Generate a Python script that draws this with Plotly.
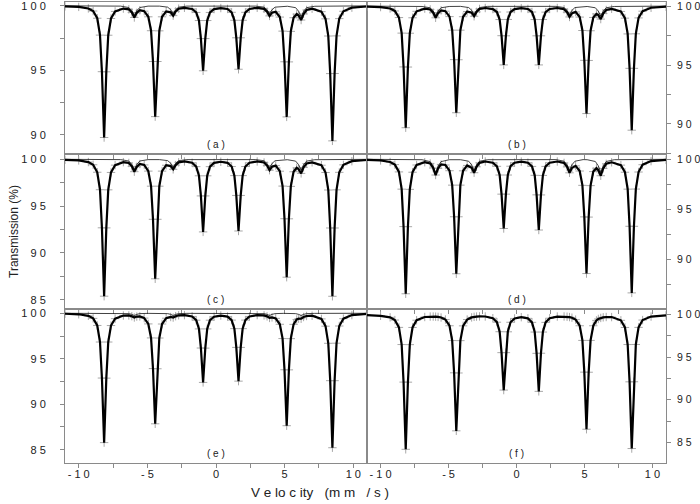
import plotly.graph_objects as go

# velocity grid (mm/s) shared by the fitted spectra
velocity = [
    -11.0, -10.0, -9.3, -8.95, -8.65, -8.45, -8.31, -8.15, -7.99, -7.85,
    -7.65, -7.35, -6.75, -6.35, -6.13, -5.95, -5.77, -5.55, -5.23, -4.93,
    -4.73, -4.59, -4.43, -4.27, -4.13, -3.93, -3.63, -3.30, -3.12, -2.94,
    -2.72, -2.30, -1.74, -1.44, -1.24, -1.10, -0.94, -0.78, -0.64, -0.44,
    -0.14, 0.35, 0.84, 1.14, 1.34, 1.48, 1.64, 1.80, 1.94, 2.14,
    2.44, 3.00, 3.50, 3.72, 3.90, 4.08, 4.35, 4.65, 4.85, 4.99,
    5.15, 5.31, 5.45, 5.65, 5.88, 6.02, 6.20, 6.38, 6.60, 7.00,
    7.68, 7.98, 8.18, 8.32, 8.48, 8.64, 8.78, 8.98, 9.28, 9.90,
    11.0,
]

fit_a = [
    99.96, 99.92, 99.80, 99.60, 99.04, 97.73, 94.89, 89.78, 94.88, 97.72,
    99.02, 99.57, 99.79, 99.73, 99.49, 99.10, 99.46, 99.66, 99.59, 99.15,
    98.07, 95.68, 91.40, 95.68, 98.06, 99.15, 99.57, 99.50, 99.24, 99.57,
    99.78, 99.85, 99.76, 99.49, 98.86, 97.46, 94.96, 97.46, 98.86, 99.49,
    99.75, 99.83, 99.76, 99.50, 98.88, 97.52, 95.08, 97.52, 98.88, 99.50,
    99.76, 99.85, 99.77, 99.55, 99.22, 99.47, 99.54, 99.13, 98.04, 95.66,
    91.38, 95.65, 98.02, 99.08, 99.36, 99.25, 98.90, 99.37, 99.68, 99.78,
    99.55, 98.99, 97.66, 94.74, 89.52, 94.75, 97.67, 99.01, 99.58, 99.86,
    99.95,
]
fit_b = [
    99.96, 99.92, 99.80, 99.59, 99.03, 97.71, 94.84, 89.68, 94.83, 97.70,
    99.01, 99.56, 99.79, 99.72, 99.44, 99.01, 99.41, 99.64, 99.57, 99.11,
    97.96, 95.46, 90.95, 95.45, 97.96, 99.10, 99.54, 99.44, 99.14, 99.51,
    99.76, 99.84, 99.75, 99.50, 98.86, 97.49, 95.01, 97.48, 98.87, 99.50,
    99.75, 99.83, 99.76, 99.50, 98.86, 97.48, 95.01, 97.48, 98.86, 99.49,
    99.76, 99.84, 99.74, 99.48, 99.08, 99.39, 99.51, 99.07, 97.93, 95.40,
    90.88, 95.39, 97.91, 99.04, 99.34, 99.24, 98.90, 99.37, 99.67, 99.77,
    99.55, 98.98, 97.64, 94.72, 89.47, 94.72, 97.65, 99.00, 99.57, 99.86,
    99.95,
]
fit_c = [
    99.95, 99.88, 99.71, 99.42, 98.62, 96.75, 92.68, 85.37, 92.67, 96.74,
    98.60, 99.38, 99.70, 99.61, 99.25, 98.68, 99.20, 99.50, 99.40, 98.74,
    97.13, 93.59, 87.23, 93.59, 97.13, 98.74, 99.37, 99.28, 98.93, 99.38,
    99.68, 99.77, 99.63, 99.22, 98.24, 96.09, 92.24, 96.09, 98.24, 99.22,
    99.62, 99.74, 99.63, 99.23, 98.26, 96.14, 92.34, 96.14, 98.26, 99.23,
    99.63, 99.77, 99.66, 99.33, 98.84, 99.21, 99.33, 98.73, 97.14, 93.65,
    87.40, 93.64, 97.11, 98.67, 99.09, 98.95, 98.50, 99.14, 99.55, 99.68,
    99.37, 98.59, 96.72, 92.66, 85.36, 92.66, 96.74, 98.61, 99.41, 99.80,
    99.93,
]
fit_d = [
    99.95, 99.89, 99.73, 99.47, 98.74, 97.02, 93.28, 86.57, 93.27, 97.00,
    98.71, 99.43, 99.71, 99.59, 99.13, 98.43, 99.09, 99.49, 99.43, 98.86,
    97.42, 94.26, 88.57, 94.26, 97.42, 98.85, 99.39, 99.16, 98.66, 99.25,
    99.65, 99.78, 99.66, 99.30, 98.43, 96.52, 93.09, 96.52, 98.43, 99.31,
    99.66, 99.77, 99.66, 99.29, 98.40, 96.45, 92.94, 96.44, 98.39, 99.29,
    99.66, 99.78, 99.64, 99.24, 98.65, 99.14, 99.35, 98.83, 97.40, 94.25,
    88.59, 94.23, 97.37, 98.77, 99.11, 98.91, 98.36, 99.08, 99.55, 99.70,
    99.42, 98.71, 97.02, 93.31, 86.66, 93.31, 97.03, 98.73, 99.46, 99.82,
    99.94,
]
fit_e = [
    99.95, 99.89, 99.72, 99.44, 98.66, 96.84, 92.88, 85.78, 92.87, 96.84,
    98.65, 99.41, 99.75, 99.76, 99.68, 99.54, 99.64, 99.66, 99.47, 98.83,
    97.29, 93.92, 87.85, 93.90, 97.28, 98.82, 99.46, 99.59, 99.53, 99.68,
    99.78, 99.80, 99.65, 99.24, 98.28, 96.18, 92.40, 96.17, 98.28, 99.24,
    99.62, 99.75, 99.64, 99.25, 98.31, 96.25, 92.54, 96.25, 98.31, 99.25,
    99.65, 99.80, 99.77, 99.66, 99.49, 99.55, 99.44, 98.79, 97.22, 93.79,
    87.64, 93.78, 97.21, 98.78, 99.32, 99.41, 99.40, 99.59, 99.70, 99.73,
    99.38, 98.58, 96.70, 92.59, 85.22, 92.59, 96.71, 98.60, 99.41, 99.80,
    99.93,
]
fit_f = [
    99.94, 99.87, 99.69, 99.37, 98.51, 96.49, 92.08, 84.18, 92.07, 96.48,
    98.50, 99.35, 99.73, 99.78, 99.78, 99.77, 99.74, 99.67, 99.43, 98.70,
    96.96, 93.17, 86.35, 93.15, 96.95, 98.69, 99.43, 99.68, 99.75, 99.78,
    99.80, 99.79, 99.59, 99.12, 98.00, 95.54, 91.14, 95.54, 97.99, 99.11,
    99.56, 99.71, 99.57, 99.10, 97.96, 95.46, 90.99, 95.47, 97.96, 99.10,
    99.59, 99.78, 99.79, 99.76, 99.72, 99.65, 99.42, 98.70, 96.98, 93.25,
    86.54, 93.24, 96.98, 98.70, 99.33, 99.50, 99.62, 99.69, 99.73, 99.72,
    99.34, 98.50, 96.49, 92.11, 84.27, 92.12, 96.50, 98.51, 99.37, 99.78,
    99.92,
]

# weak sub-spectrum (thin line)
minor_velocity = [
    -11.0, -6.95, -6.35, -6.13, -5.95, -5.77, -5.55, -4.95, -4.12, -3.52,
    -3.30, -3.12, -2.94, -2.72, -2.12, 2.90, 3.50, 3.72, 3.90, 4.08,
    4.30, 4.90, 5.20, 5.80, 6.02, 6.20, 6.38, 6.60, 7.20, 11.0,
]
minor_a = [
    100.0, 99.98, 99.87, 99.63, 99.25, 99.63, 99.87, 99.98, 99.98, 99.90,
    99.70, 99.40, 99.70, 99.90, 99.98, 99.98, 99.90, 99.70, 99.40, 99.70,
    99.90, 99.98, 99.97, 99.86, 99.58, 99.15, 99.58, 99.86, 99.97, 100.0,
]
minor_b = [
    100.0, 99.97, 99.86, 99.59, 99.17, 99.59, 99.86, 99.97, 99.98, 99.88,
    99.65, 99.30, 99.65, 99.88, 99.98, 99.98, 99.88, 99.64, 99.27, 99.64,
    99.88, 99.98, 99.97, 99.86, 99.58, 99.16, 99.58, 99.86, 99.97, 100.0,
]
minor_c = [
    100.0, 99.97, 99.82, 99.45, 98.90, 99.45, 99.82, 99.97, 99.97, 99.86,
    99.58, 99.16, 99.58, 99.86, 99.97, 99.97, 99.85, 99.55, 99.10, 99.55,
    99.85, 99.97, 99.96, 99.81, 99.43, 98.86, 99.43, 99.81, 99.96, 100.0,
]
minor_d = [
    100.0, 99.96, 99.77, 99.32, 98.63, 99.32, 99.77, 99.96, 99.96, 99.81,
    99.44, 98.87, 99.44, 99.81, 99.96, 99.97, 99.81, 99.45, 98.89, 99.45,
    99.81, 99.97, 99.96, 99.78, 99.35, 98.69, 99.35, 99.78, 99.96, 100.0,
]
minor_e = [
    100.0, 99.99, 99.96, 99.88, 99.75, 99.88, 99.96, 99.99, 99.99, 99.96,
    99.88, 99.75, 99.88, 99.96, 99.99, 99.99, 99.96, 99.88, 99.75, 99.88,
    99.96, 99.99, 99.99, 99.96, 99.88, 99.75, 99.88, 99.96, 99.99, 100.0,
]

x_ticks = [-10, -7.5, -5, -2.5, 0, 2.5, 5, 7.5, 10]
x_ticktext = ["- 1 0", "", "- 5", "", "0", "", "5", "", "1 0"]
y_ticks = [85, 87.5, 90, 92.5, 95, 97.5, 100]
y_ticktext = ["8 5", "", "9 0", "", "9 5", "", "1 0 0"]

W, H = 700, 504
X_DOM = [[65 / W, 367 / W], [367 / W, 666 / W]]
Y_DOM = [[1 - 154 / H, 1 - 2 / H], [1 - 309 / H, 1 - 154 / H], [1 - 463 / H, 1 - 309 / H]]

# label, fit, component, y range, column, row
panels = [
    ("a", fit_a, minor_a, [88.5, 100.3], 0, 0),
    ("b", fit_b, minor_b, [87.45, 100.35], 1, 0),
    ("c", fit_c, minor_c, [84.0, 100.57], 0, 1),
    ("d", fit_d, minor_d, [85.05, 100.53], 1, 1),
    ("e", fit_e, minor_e, [83.54, 100.47], 0, 2),
    ("f", fit_f, None, [82.57, 100.67], 1, 2),
]

GREY = "#8a8a8a"
TICK_FONT = dict(family="Liberation Sans, Arial, sans-serif", size=11, color="#222")
TICK_FONT_R = dict(family="Liberation Sans, Arial, sans-serif", size=10.5, color="#222")

fig = go.Figure()
layout = {}
annotations = []
for i, (lab, fit, comp, yr, col, row) in enumerate(panels):
    n = "" if i == 0 else str(i + 1)
    xa, ya = "x" + n, "y" + n

    fig.add_trace(go.Scatter(
        x=velocity, y=fit, mode="markers", xaxis=xa, yaxis=ya,
        marker=dict(symbol="cross-thin", size=6, line=dict(width=1, color="#a8a8a8")),
        showlegend=False, hoverinfo="skip",
    ))
    if comp is not None:
        fig.add_trace(go.Scatter(
            x=minor_velocity, y=comp, mode="lines", xaxis=xa, yaxis=ya,
            line=dict(color="#111", width=0.8), showlegend=False, hoverinfo="skip",
        ))
    fig.add_trace(go.Scatter(
        x=velocity, y=fit, mode="lines", xaxis=xa, yaxis=ya,
        line=dict(color="#000", width=2.2), showlegend=False, hoverinfo="skip",
    ))

    yt = [v for v in y_ticks if yr[0] <= v <= yr[1]]
    ytt = [t for v, t in zip(y_ticks, y_ticktext) if yr[0] <= v <= yr[1]]

    layout["xaxis" + n] = dict(
        domain=X_DOM[col], anchor=ya, range=[-11, 11], automargin=False,
        tickvals=x_ticks, ticktext=x_ticktext, showticklabels=(row == 2),
        ticklabelstandoff=-3,
        ticks="outside", ticklen=4, tickcolor=GREY, tickfont=TICK_FONT,
        showline=True, linecolor=GREY, linewidth=1, mirror=True,
        showgrid=False, zeroline=False,
    )
    layout["yaxis" + n] = dict(
        domain=Y_DOM[row], anchor=xa, range=yr, automargin=False,
        side="left" if col == 0 else "right",
        tickvals=yt, ticktext=ytt, ticklabelstandoff=12 if col == 0 else 4,
        ticklabeloverflow="allow",
        ticks="outside", ticklen=4, tickcolor=GREY,
        tickfont=TICK_FONT if col == 0 else TICK_FONT_R,
        showline=True, linecolor=GREY, linewidth=1, mirror=True,
        showgrid=False, zeroline=False,
    )
    annotations.append(dict(
        text="( %s )" % lab, xref=xa + " domain", yref=ya + " domain",
        x=0.5, y=0, xanchor="center", yanchor="bottom", yshift=2,
        showarrow=False, font=dict(family="Liberation Sans, Arial", size=10, color="#222"),
    ))

annotations.append(dict(
    text="Transmission (%)", xref="paper", yref="paper", x=14 / W, y=1 - 232 / H,
    textangle=-90, showarrow=False, xanchor="center", yanchor="middle",
    font=dict(family="Liberation Sans, Arial", size=12, color="#222"),
))
annotations.append(dict(
    text="V e lo c ity   (m m   / s )", xref="paper", yref="paper", x=320 / W, y=1 - 492 / H,
    showarrow=False, xanchor="center", yanchor="middle",
    font=dict(family="Liberation Sans, Arial", size=13.5, color="#222"),
))

fig.update_layout(
    width=W, height=H,
    margin=dict(l=0, r=0, t=0, b=0),
    paper_bgcolor="white", plot_bgcolor="white",
    annotations=annotations,
    **layout,
)

# the page body has a default margin; drop it so the figure sits at the window origin
fig.write_html(
    "out.html",
    config={"displayModeBar": False},
    post_script="document.body.style.margin='0';",
)
